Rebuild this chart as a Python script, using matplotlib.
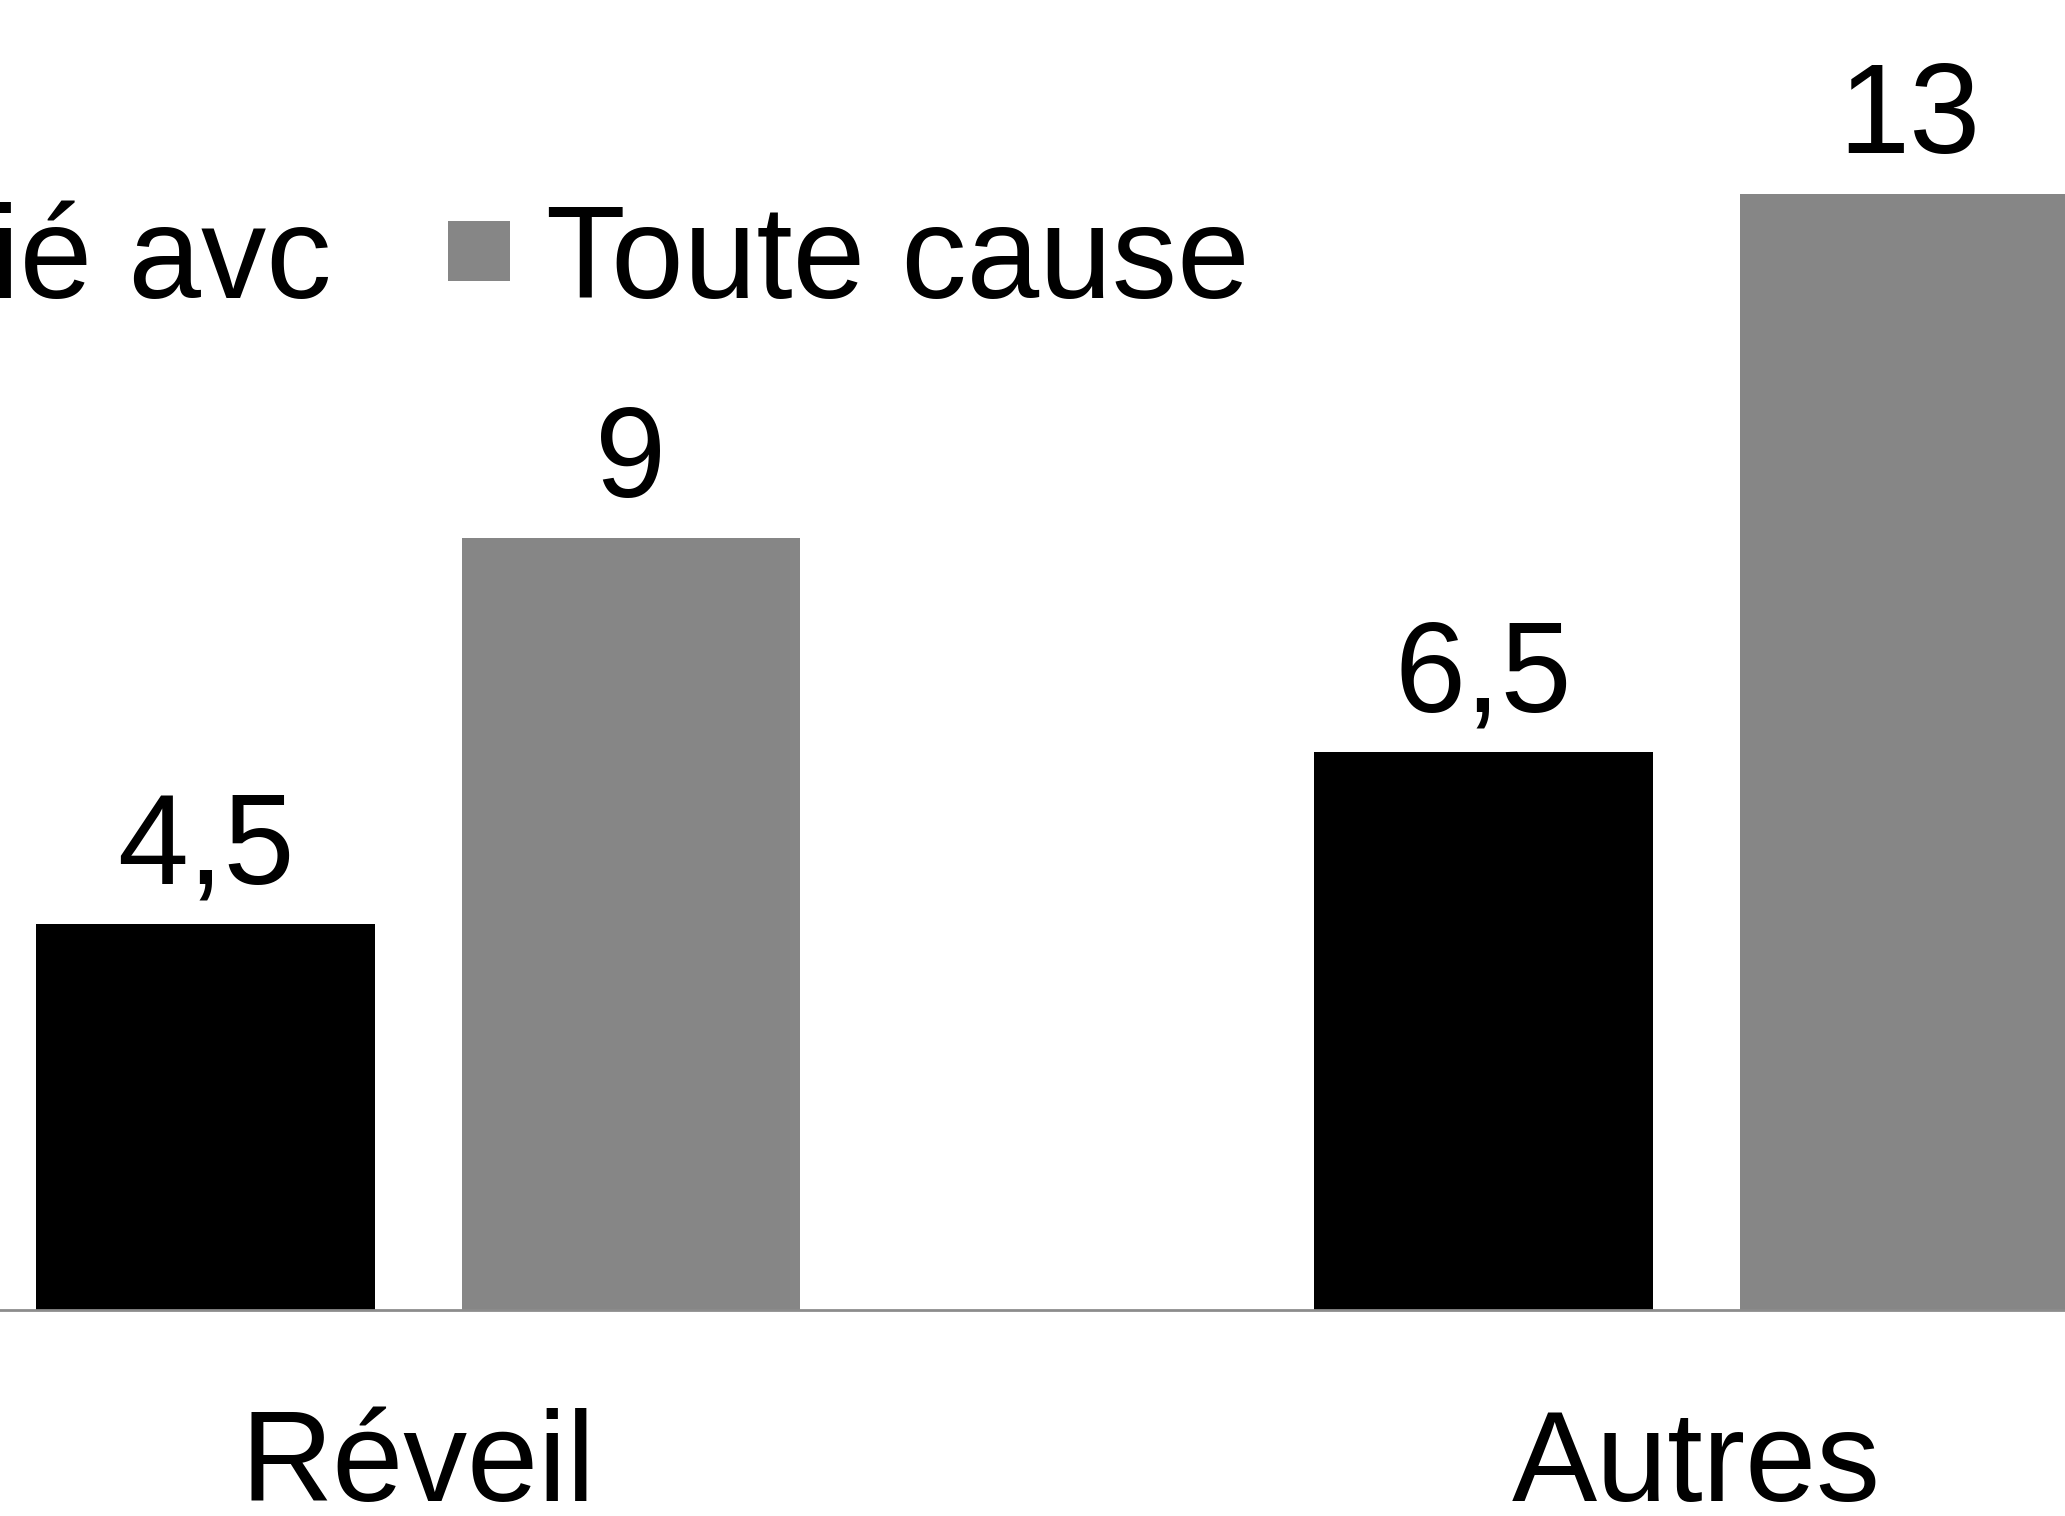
import numpy as np
import matplotlib
matplotlib.use("agg")
import matplotlib.pyplot as plt

plt.rcParams['font.family'] = ['Liberation Sans', 'DejaVu Sans']

#-------------------Data--------------------------
categories = ["Réveil", "Autres"]
series_names = ["Lié avc", "Toute cause"]
lie_avc = [4.5, 6.5]
toute_cause = [9, 13]

#-------------------Figure--------------------------
fig = plt.figure(figsize=(20.65, 15.16), dpi=100)
ax = fig.add_axes([0, 0.1356, 1, 1 - 0.1356])

x = np.arange(len(categories))
w = 0.265
off = 0.1665

b1 = ax.bar(x - off, lie_avc, w, color="black", label=series_names[0])
b2 = ax.bar(x + off, toute_cause, w, color="#868686", label=series_names[1])

def fmt(v):
    s = ("%g" % v)
    return s.replace(".", ",")

for bars, vals in [(b1, lie_avc), (b2, toute_cause)]:
    ax.bar_label(bars, labels=[fmt(v) for v in vals], padding=10, fontsize=92)

ax.set_xlim(-0.3272, 1.2885)
ax.set_ylim(0, 15.26)

ax.set_xticks(x)
ax.set_xticklabels(categories, fontsize=92)
ax.tick_params(axis="x", length=0, pad=70)
ax.set_yticks([])

for s in ["top", "left", "right"]:
    ax.spines[s].set_visible(False)
ax.spines["bottom"].set_color("#8c8c8c")
ax.spines["bottom"].set_linewidth(2)

# legend is partly cut off on the left, as in the original crop
leg = fig.legend(loc="center left", bbox_to_anchor=(-179.6 / 2065, 0.8263),
                 ncol=2, frameon=False, fontsize=94, handlelength=0.475,
                 handleheight=0.33, handletextpad=0.272, columnspacing=0.896,
                 borderpad=0, borderaxespad=0)

plt.savefig("out.png", dpi=100)
